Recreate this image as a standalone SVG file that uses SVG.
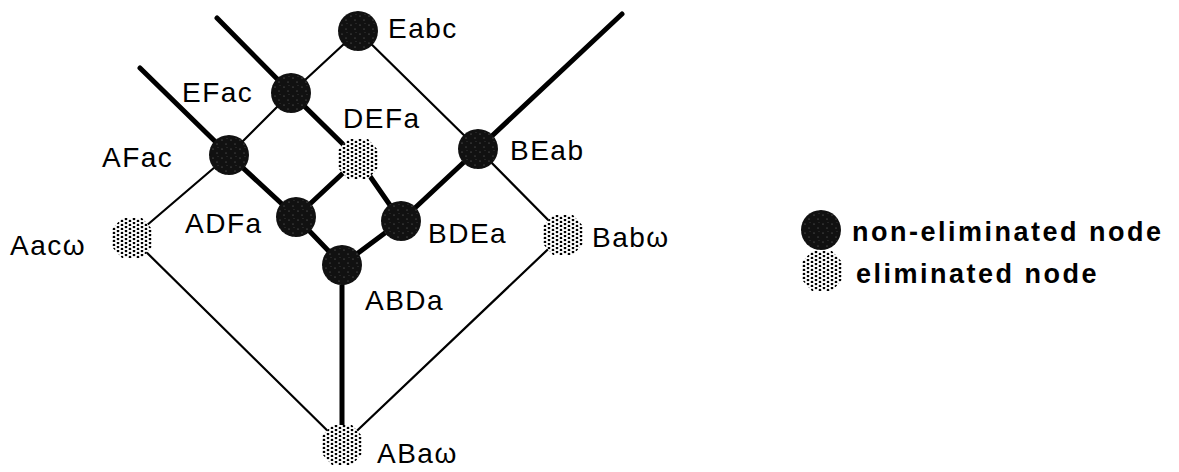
<svg xmlns="http://www.w3.org/2000/svg" width="1179" height="472" viewBox="0 0 1179 472">
<defs>
<style>
.thick{stroke:#000;stroke-width:5;fill:none;stroke-linecap:round;stroke-linejoin:round}
.thin{stroke:#000;stroke-width:2.2;fill:none;stroke-linecap:round}
.lbl{font-family:"Liberation Sans",Arial,sans-serif;font-size:28px;letter-spacing:1.5px;fill:#000}
.leg{font-family:"Liberation Sans",Arial,sans-serif;font-size:27px;font-weight:bold;letter-spacing:2.5px;fill:#000}
.ne{fill:url(#speck)}
.elb{fill:#fff}
.el{fill:url(#dots)}
</style>
<pattern id="dots" width="8" height="4" patternUnits="userSpaceOnUse">
<circle cx="2" cy="1" r="1.35" fill="#000"/>
<circle cx="6" cy="3" r="1.35" fill="#000"/>
</pattern>
<pattern id="speck" width="9" height="9" patternUnits="userSpaceOnUse">
<rect width="9" height="9" fill="#111"/>
<circle cx="2" cy="3" r="0.6" fill="#777"/>
<circle cx="6" cy="7" r="0.5" fill="#888"/>
<circle cx="7" cy="1.5" r="0.4" fill="#666"/>
</pattern>
<circle id="nec" r="20"/>
<polygon id="elp" points="-20,-9 -10,-20 10,-20 20,-9 20,9 10,20 -10,20 -20,9"/>
</defs>
<rect width="1179" height="472" fill="#fff"/>
<g id="connectors">
<polyline class="thick" points="140,68 229,155 296,217 342,265 342,445"/>
<polyline class="thick" points="217,18 291,93 358,159 401,221"/>
<polyline class="thick" points="622,14 478,149 401,221 342,265"/>
<line class="thick" x1="296" y1="217" x2="358" y2="159"/>
<line class="thin" x1="358" y1="31" x2="291" y2="93"/>
<line class="thin" x1="291" y1="93" x2="229" y2="155"/>
<line class="thin" x1="229" y1="155" x2="132" y2="238"/>
<line class="thin" x1="132" y1="238" x2="342" y2="445"/>
<line class="thin" x1="358" y1="31" x2="478" y2="149"/>
<line class="thin" x1="478" y1="149" x2="563" y2="235"/>
<line class="thin" x1="563" y1="235" x2="342" y2="445"/>
</g>
<g id="Eabc"><use href="#nec" x="358" y="31" class="ne"/><text class="lbl" x="388" y="38">Eabc</text></g>
<g id="EFac"><use href="#nec" x="291" y="93" class="ne"/><text class="lbl" x="182" y="102">EFac</text></g>
<g id="AFac"><use href="#nec" x="229" y="155" class="ne"/><text class="lbl" x="102" y="167">AFac</text></g>
<g id="DEFa"><use href="#elp" x="358" y="159" class="elb"/><use href="#elp" x="358" y="159" class="el"/><text class="lbl" x="343" y="128">DEFa</text></g>
<g id="BEab"><use href="#nec" x="478" y="149" class="ne"/><text class="lbl" x="510" y="160">BEab</text></g>
<g id="Aacw"><use href="#elp" x="132" y="238" class="elb"/><use href="#elp" x="132" y="238" class="el"/><text class="lbl" x="10" y="255">Aacω</text></g>
<g id="ADFa"><use href="#nec" x="296" y="217" class="ne"/><text class="lbl" x="185" y="233">ADFa</text></g>
<g id="BDEa"><use href="#nec" x="401" y="221" class="ne"/><text class="lbl" x="428" y="243">BDEa</text></g>
<g id="ABDa"><use href="#nec" x="342" y="265" class="ne"/><text class="lbl" x="365" y="310">ABDa</text></g>
<g id="Babw"><use href="#elp" x="563" y="235" class="elb"/><use href="#elp" x="563" y="235" class="el"/><text class="lbl" x="592" y="247">Babω</text></g>
<g id="ABaw"><use href="#elp" x="342" y="445" class="elb"/><use href="#elp" x="342" y="445" class="el"/><text class="lbl" x="377" y="463">ABaω</text></g>
<g id="legend">
<use href="#nec" x="821" y="230" class="ne"/>
<text class="leg" x="852" y="241">non-eliminated node</text>
<use href="#elp" x="822" y="271" class="elb"/><use href="#elp" x="822" y="271" class="el"/>
<text class="leg" x="856" y="283">eliminated node</text>
</g>
</svg>
